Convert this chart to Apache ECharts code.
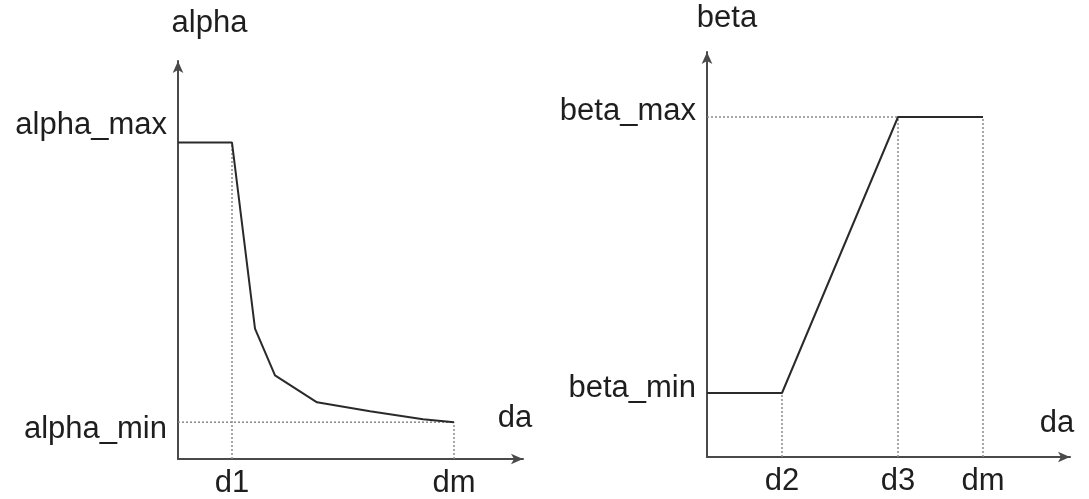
<!DOCTYPE html>
<html>
<head>
<meta charset="utf-8">
<script src="https://cdn.jsdelivr.net/npm/echarts@6/dist/echarts.min.js"></script>
<style>
html,body{margin:0;padding:0;background:#fff;}
#c{width:1089px;height:499px;}
</style>
</head>
<body>
<div id="c"></div>
<script>
// ---- Left panel: alpha vs da ----
const alphaCurveX = [0, 54, 77, 97, 139, 192, 245, 276];
const alphaCurveY = [318, 318, 131, 84, 57, 48, 40, 37];
const alphaTickValues = [54, 276];
const alphaTickNames = ['d1', 'dm'];
const alphaLevelValues = [318, 37];
const alphaLevelNames = ['alpha_max', 'alpha_min'];

// ---- Right panel: beta vs da ----
const betaCurveX = [0, 75, 191, 276];
const betaCurveY = [64, 64, 340, 340];
const betaTickValues = [75, 191, 276];
const betaTickNames = ['d2', 'd3', 'dm'];
const betaLevelValues = [340, 64];
const betaLevelNames = ['beta_max', 'beta_min'];

const FONT = 'Liberation Sans';
const FS = 31;
const TXT = '#1e1e1e';
const AXIS = '#4a4a4a';
const CURVE = '#2a2a2a';
const DOT = '#8a8a8a';

function zip(xs, ys) { return xs.map((x, i) => [x, ys[i]]); }
function nameOf(vals, names, v) {
  const i = vals.findIndex(a => Math.abs(a - v) < 1e-6);
  return i >= 0 ? names[i] : '';
}
function richStyle(pad) {
  return { fontSize: FS, fontFamily: FONT, color: TXT, padding: pad };
}

const axisLineStyle = {
  show: true,
  symbol: ['none', 'arrow'],
  symbolSize: [8, 12],
  lineStyle: { color: AXIS, width: 2 }
};

function xAxisDef(gridIndex, max, tickVals, tickNames, gap, padBottom) {
  return {
    type: 'value', gridIndex, min: 0, max,
    name: 'da', nameLocation: 'end', nameGap: gap,
    nameTextStyle: { fontSize: FS, fontFamily: FONT, color: TXT, align: 'center', verticalAlign: 'bottom', padding: [0, 0, padBottom, 0] },
    axisLine: axisLineStyle,
    axisTick: { show: false },
    splitLine: { show: false },
    axisLabel: {
      customValues: tickVals,
      formatter: v => nameOf(tickVals, tickNames, v),
      fontSize: FS, fontFamily: FONT, color: TXT, margin: 9
    }
  };
}

function yAxisDef(gridIndex, max, name, gap, padLeft, levelVals, levelNames, pads) {
  const rich = {};
  levelNames.forEach((n, i) => { rich['r' + i] = richStyle(pads[i]); });
  return {
    type: 'value', gridIndex, min: 0, max,
    name, nameLocation: 'end', nameGap: gap,
    nameTextStyle: { fontSize: FS, fontFamily: FONT, color: TXT, align: 'center', verticalAlign: 'bottom', padding: [0, 0, 0, padLeft] },
    axisLine: axisLineStyle,
    axisTick: { show: false },
    splitLine: { show: false },
    axisLabel: {
      customValues: levelVals,
      formatter: v => {
        const i = levelVals.findIndex(a => Math.abs(a - v) < 1e-6);
        return i >= 0 ? '{r' + i + '|' + levelNames[i] + '}' : '';
      },
      rich,
      fontSize: FS, fontFamily: FONT, color: TXT, margin: 11
    }
  };
}

function dotted(xi, yi, pts) {
  return {
    type: 'line', xAxisIndex: xi, yAxisIndex: yi, data: pts,
    symbol: 'none', silent: true, z: 1,
    lineStyle: { color: DOT, width: 1.5, type: [2, 2] }
  };
}

const option = {
  animation: false,
  backgroundColor: '#ffffff',
  grid: [
    { left: 178, top: 61, width: 345, height: 400 },
    { left: 707, top: 52, width: 363, height: 405 }
  ],
  xAxis: [
    xAxisDef(0, 345, alphaTickValues, alphaTickNames, -8, 25),
    xAxisDef(1, 363, betaTickValues, betaTickNames, -13, 18)
  ],
  yAxis: [
    yAxisDef(0, 400, 'alpha', 22, 63, alphaLevelValues, alphaLevelNames, [[0, 0, 34, 0], [14, 0, 0, 0]]),
    yAxisDef(1, 405, 'beta', 18, 40, betaLevelValues, betaLevelNames, [[0, 0, 12, 0], [0, 0, 10, 0]])
  ],
  series: [
    // left reference lines
    dotted(0, 0, [[0, alphaLevelValues[1]], [alphaTickValues[1], alphaLevelValues[1]]]),
    dotted(0, 0, [[alphaTickValues[0], 0], [alphaTickValues[0], alphaLevelValues[0]]]),
    dotted(0, 0, [[alphaTickValues[1], 0], [alphaTickValues[1], alphaLevelValues[1]]]),
    // right reference lines
    dotted(1, 1, [[0, betaLevelValues[0]], [betaTickValues[1], betaLevelValues[0]]]),
    dotted(1, 1, [[betaTickValues[0], 0], [betaTickValues[0], betaLevelValues[1]]]),
    dotted(1, 1, [[betaTickValues[1], 0], [betaTickValues[1], betaLevelValues[0]]]),
    dotted(1, 1, [[betaTickValues[2], 0], [betaTickValues[2], betaLevelValues[0]]]),
    // curves
    {
      type: 'line', xAxisIndex: 0, yAxisIndex: 0, data: zip(alphaCurveX, alphaCurveY),
      symbol: 'none', z: 3, lineStyle: { color: CURVE, width: 2 }
    },
    {
      type: 'line', xAxisIndex: 1, yAxisIndex: 1, data: zip(betaCurveX, betaCurveY),
      symbol: 'none', z: 3, lineStyle: { color: CURVE, width: 2 }
    }
  ]
};

const chart = echarts.init(document.getElementById('c'), null, { renderer: 'canvas' });
chart.setOption(option);
</script>
</body>
</html>
